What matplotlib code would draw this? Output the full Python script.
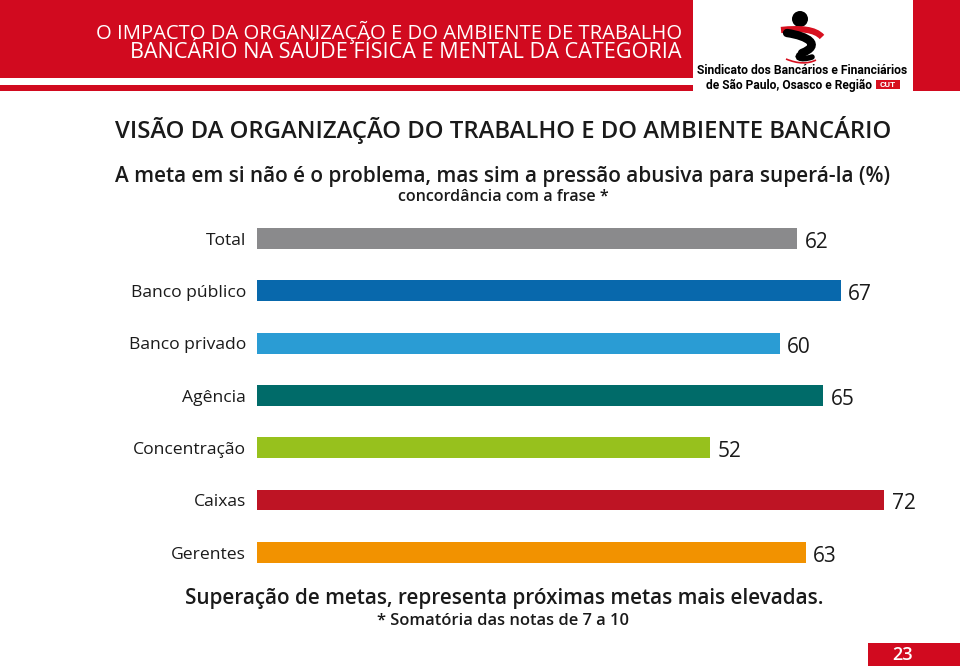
import matplotlib
matplotlib.use("Agg")
import matplotlib.pyplot as plt
from matplotlib.patches import Rectangle, Circle, PathPatch
from matplotlib.path import Path

# dados do gráfico
categories = ["Total", "Banco público", "Banco privado", "Agência",
              "Concentração", "Caixas", "Gerentes"]
values = [62, 67, 60, 65, 52, 72, 63]
colors = ["#8a8a8c", "#0868ac", "#2a9cd4", "#006b69",
          "#97c11d", "#be1424", "#f29200"]

RED = "#d10a1f"
NARROW = ["Roboto", "DejaVu Sans"]
TITLE = ["Open Sans", "DejaVu Sans"]
SANS = ["Open Sans", "DejaVu Sans"]
W, H = 960, 669

fig = plt.figure(figsize=(9.6, 6.69), dpi=100)
renderer = fig.canvas.get_renderer()


def fit(t, width):
    # ajusta o tamanho da fonte para ocupar a largura desejada (em px)
    w = t.get_window_extent(renderer).width
    t.set_fontsize(t.get_fontsize() * width / w)
    return t


# camada de fundo em coordenadas de pixel
bg = fig.add_axes([0, 0, 1, 1])
bg.set_xlim(0, W)
bg.set_ylim(H, 0)
bg.axis("off")

bg.add_patch(Rectangle((0, 0), 693, 78, color=RED, lw=0))
bg.add_patch(Rectangle((0, 85), 693, 6, color=RED, lw=0))
bg.add_patch(Rectangle((913, 0), 47, 91, color=RED, lw=0))

fit(bg.text(682, 38.5, "O IMPACTO DA ORGANIZAÇÃO E DO AMBIENTE DE TRABALHO",
            ha="right", va="baseline", color="white", family=TITLE,
            fontsize=20), 586)
fit(bg.text(682, 58.5, "BANCÁRIO NA SAÚDE FÍSICA E MENTAL DA CATEGORIA",
            ha="right", va="baseline", color="white", family=TITLE,
            fontsize=20), 551)

# logo (simplificado)
bg.add_patch(Circle((800, 19), 8, color="black", lw=0))
bg.add_patch(PathPatch(Path([(781, 30), (800, 28), (815, 29), (822, 37)],
                            [Path.MOVETO, Path.CURVE4, Path.CURVE4, Path.CURVE4]),
                       fc="none", ec="#d7101f", lw=4.5))
bg.add_patch(PathPatch(Path([(787, 33), (808, 36), (822, 45), (802, 53)],
                            [Path.MOVETO, Path.CURVE4, Path.CURVE4, Path.CURVE4]),
                       fc="none", ec="black", lw=6, capstyle="round"))
bg.add_patch(PathPatch(Path([(802, 53), (794, 57), (800, 61), (812, 57)],
                            [Path.MOVETO, Path.CURVE4, Path.CURVE4, Path.CURVE4]),
                       fc="none", ec="black", lw=4, capstyle="round"))
bg.add_patch(PathPatch(Path([(786, 59), (798, 64), (808, 64), (816, 60)],
                            [Path.MOVETO, Path.CURVE4, Path.CURVE4, Path.CURVE4]),
                       fc="none", ec="#d7101f", lw=1.2))
fit(bg.text(697, 71, "Sindicato dos Bancários e Financiários", ha="left",
            va="center", family=NARROW, weight="bold", fontsize=9), 211)
fit(bg.text(706, 85, "de São Paulo, Osasco e Região", ha="left",
            va="center", family=NARROW, weight="bold", fontsize=9), 166)
bg.add_patch(Rectangle((876, 80), 24, 9, color="#d7101f", lw=0))
bg.text(888, 84.8, "CUT", ha="center", va="center", color="white",
        family=NARROW, weight="bold", fontsize=6)

# títulos
fit(bg.text(115, 138.5, "VISÃO DA ORGANIZAÇÃO DO TRABALHO E DO AMBIENTE BANCÁRIO",
            ha="left", va="baseline", family=TITLE, weight=600,
            color="#1a1a1a", fontsize=20), 775)
fit(bg.text(115, 182, "A meta em si não é o problema, mas sim a pressão abusiva para superá-la (%)",
            ha="left", va="baseline", family=TITLE, weight=600,
            color="#1a1a1a", fontsize=16), 775)
fit(bg.text(503, 201, "concordância com a frase *", ha="center", va="baseline",
            family=TITLE, weight=600, color="#1a1a1a", fontsize=12), 211)

# rodapé
fit(bg.text(185, 604, "Superação de metas, representa próximas metas mais elevadas.",
            ha="left", va="baseline", family=TITLE, weight=600,
            color="#1a1a1a", fontsize=16), 638)
fit(bg.text(503, 625, "* Somatória das notas de 7 a 10", ha="center", va="baseline",
            family=TITLE, weight=600, color="#1a1a1a", fontsize=12), 253)
bg.add_patch(Rectangle((868, 643), 92, 23, color=RED, lw=0))
bg.text(903, 655, "23", ha="center", va="center", color="white",
        family=TITLE, weight=600, fontsize=13)

# barras
px_per_unit = 8.71
gap = 52.3
top = 238.5 - gap / 2
ax = fig.add_axes([257 / W, 1 - (top + 7 * gap) / H,
                   80 * px_per_unit / W, 7 * gap / H])
ax.set_xlim(0, 80)
ax.set_ylim(6.5, -0.5)
ax.axis("off")

ypos = list(range(len(categories)))
ax.barh(ypos, values, height=0.40, color=colors)
for y, v in zip(ypos, values):
    ax.text(v + 0.85, y + 0.18, str(v), ha="left", va="baseline",
            family=SANS, fontsize=15, color="#1a1a1a")

labels = []
for y, c in zip(ypos, categories):
    labels.append(ax.text(-1.25, y + 0.12, c, ha="right", va="baseline",
                          family=SANS, fontsize=12, color="#1a1a1a"))
fit(labels[2], 116)
for t in labels:
    t.set_fontsize(labels[2].get_fontsize())

fig.savefig("out.png", dpi=100)
